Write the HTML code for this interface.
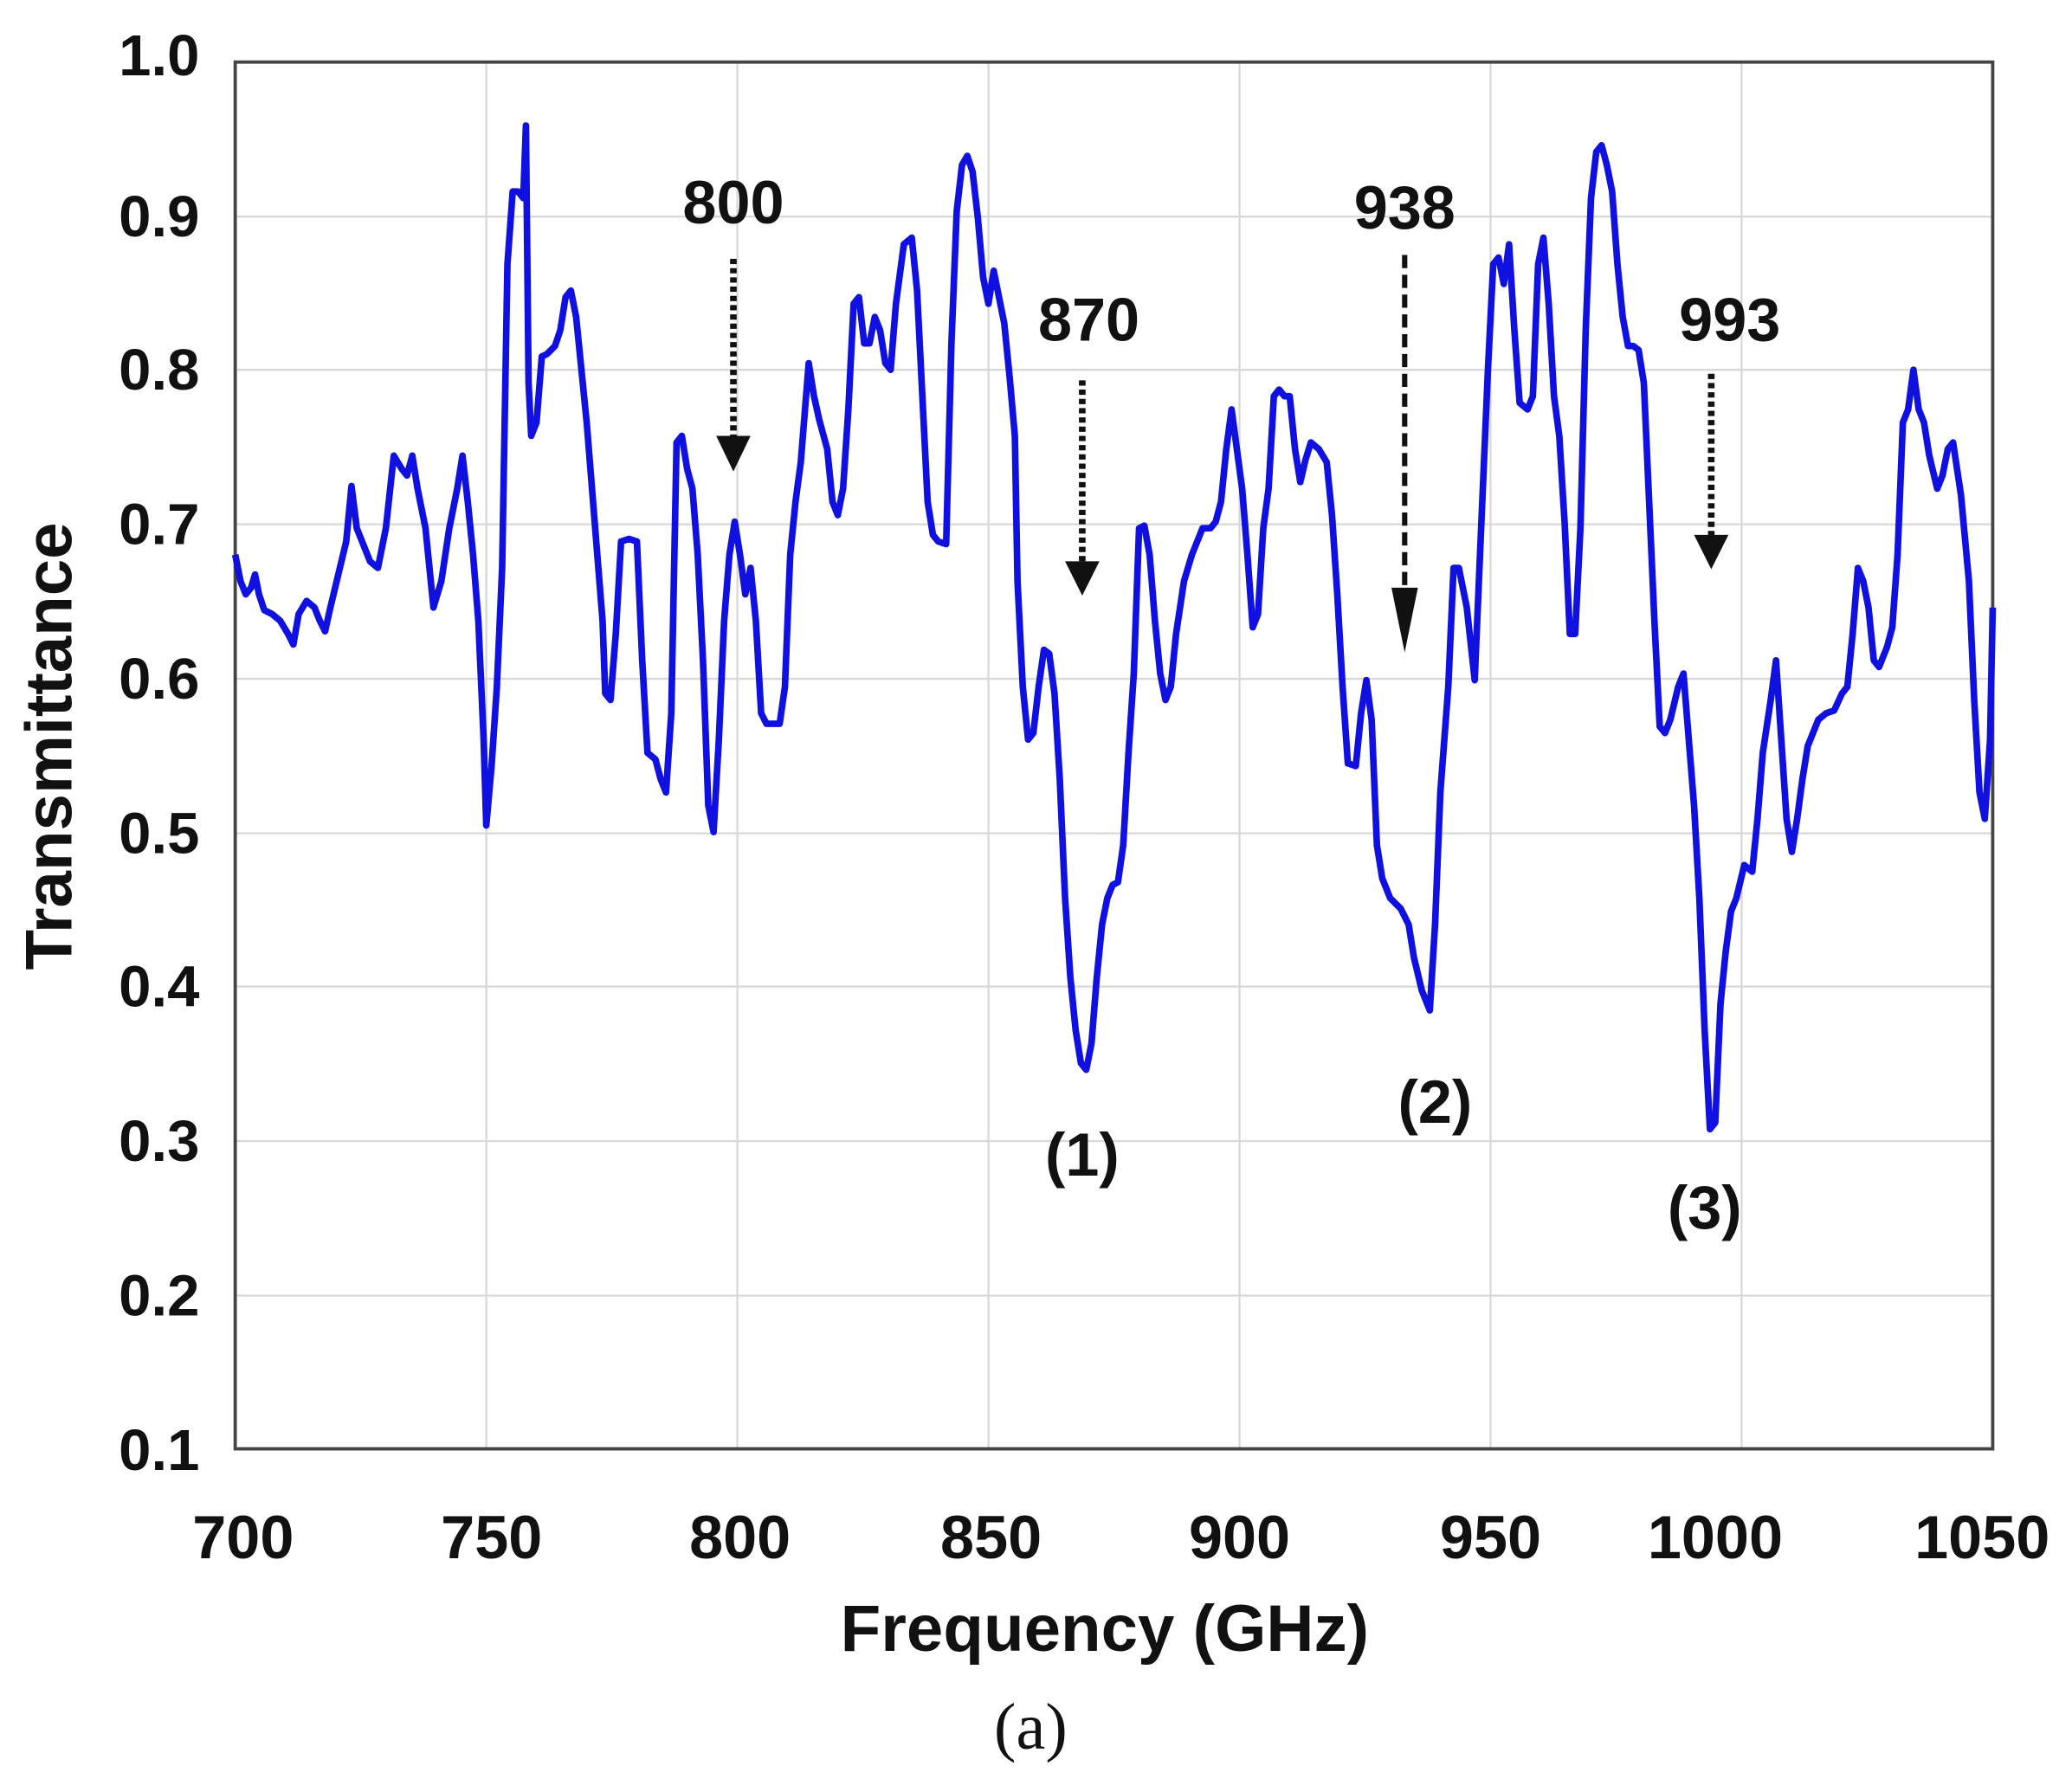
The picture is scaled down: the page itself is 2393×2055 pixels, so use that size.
<!DOCTYPE html>
<html><head><meta charset="utf-8"><style>html,body{margin:0;padding:0;background:#fff}svg{display:block}</style></head>
<body>
<svg width="2393" height="2055" viewBox="0 0 1568 1347" preserveAspectRatio="none" xmlns="http://www.w3.org/2000/svg">
<rect width="1568" height="1347" fill="#fff"/>
<g stroke="#d8d8d8" stroke-width="1.5">
<line x1="368" y1="47" x2="368" y2="1097"/><line x1="558" y1="47" x2="558" y2="1097"/><line x1="748" y1="47" x2="748" y2="1097"/><line x1="938" y1="47" x2="938" y2="1097"/><line x1="1128" y1="47" x2="1128" y2="1097"/><line x1="1318" y1="47" x2="1318" y2="1097"/>
<line x1="178" y1="164" x2="1508" y2="164"/><line x1="178" y1="280" x2="1508" y2="280"/><line x1="178" y1="397" x2="1508" y2="397"/><line x1="178" y1="514" x2="1508" y2="514"/><line x1="178" y1="631" x2="1508" y2="631"/><line x1="178" y1="747" x2="1508" y2="747"/><line x1="178" y1="864" x2="1508" y2="864"/><line x1="178" y1="981" x2="1508" y2="981"/>
</g>
<rect x="178" y="47" width="1330" height="1050" fill="none" stroke="#444" stroke-width="2.5"/>
<polyline fill="none" stroke="#1010e0" stroke-width="5" stroke-linejoin="round" points="178,420 182,440 186,450 190,445 193,435 196,450 200,462 206,465 212,470 218,480 222,488 226,465 232,455 238,460 242,470 246,478 250,460 256,435 262,410 266,368 270,400 274,410 280,425 286,430 292,400 298,345 304,355 308,360 312,345 316,370 322,400 328,460 334,440 340,400 346,370 350,345 354,380 358,420 362,470 366,560 368,625 372,580 376,520 380,430 384,200 388,145 392,145 396,150 398,95 400,290 402,330 406,320 410,270 414,268 420,262 424,250 428,225 432,220 436,240 440,280 444,320 448,370 452,420 456,470 458,525 462,530 466,480 470,410 476,408 482,410 486,500 490,570 496,575 500,590 504,600 508,540 512,335 516,330 520,355 524,370 528,420 532,500 536,610 540,630 544,560 548,470 552,420 556,395 560,420 564,450 568,430 572,470 576,540 580,548 586,548 590,548 594,520 598,420 602,380 606,350 612,275 616,300 620,318 626,340 630,380 634,390 638,370 642,310 646,230 650,225 654,260 658,260 662,240 666,250 670,275 674,280 678,230 684,185 690,180 694,220 698,300 702,380 706,405 710,410 716,412 720,260 724,160 728,125 732,118 736,130 740,165 744,210 748,230 752,205 756,225 760,245 764,285 768,330 770,440 774,520 778,560 782,555 786,520 790,492 794,495 798,525 802,590 806,680 810,740 814,780 818,805 822,810 826,790 830,740 834,700 838,680 842,670 846,668 850,640 854,570 858,510 862,400 866,398 870,420 874,470 878,510 882,530 886,520 890,480 896,440 902,420 910,400 916,400 920,395 924,380 928,340 932,310 936,340 940,370 944,420 948,475 952,465 956,400 960,370 964,300 968,295 972,300 976,300 980,340 984,365 988,348 992,335 998,340 1004,350 1008,390 1012,450 1016,520 1020,578 1026,580 1030,540 1034,515 1038,545 1042,640 1046,665 1052,680 1060,688 1066,700 1070,725 1076,750 1082,765 1086,700 1090,600 1096,520 1100,430 1104,430 1110,460 1116,515 1120,420 1126,280 1130,200 1134,195 1138,215 1142,185 1146,250 1150,305 1156,310 1160,300 1164,200 1168,180 1172,230 1176,300 1180,330 1184,395 1188,480 1192,480 1196,400 1200,250 1204,150 1208,115 1212,110 1216,125 1220,145 1224,200 1228,240 1232,262 1236,262 1240,265 1244,290 1248,380 1252,470 1256,550 1260,555 1264,545 1270,520 1274,510 1278,560 1282,610 1286,680 1290,780 1294,855 1298,850 1302,760 1306,720 1310,690 1314,680 1320,655 1326,660 1330,620 1334,570 1340,530 1344,500 1348,560 1352,620 1356,645 1360,620 1364,590 1368,565 1376,545 1382,540 1388,538 1394,525 1398,520 1402,480 1406,430 1410,440 1414,460 1418,500 1422,505 1428,490 1432,475 1436,420 1440,320 1444,310 1448,280 1452,310 1456,320 1460,345 1466,370 1470,360 1474,340 1478,335 1484,375 1490,440 1494,530 1498,600 1502,620 1506,560 1508,460"/>
<g stroke="#111" stroke-width="5">
<line x1="555" y1="196" x2="555" y2="334" stroke-dasharray="4,3"/>
<line x1="819" y1="288" x2="819" y2="428" stroke-dasharray="4,3"/>
<line x1="1063" y1="193" x2="1063" y2="448" stroke-dasharray="10,5" stroke-width="4"/>
<line x1="1295" y1="283" x2="1295" y2="408" stroke-dasharray="4,3"/>
</g>
<g fill="#111">
<polygon points="542,330 568,330 555,357"/>
<polygon points="806,425 832,425 819,451"/>
<polygon points="1053,445 1073,445 1063,494"/>
<polygon points="1282,405 1308,405 1295,431"/>
</g>
<g font-family="Liberation Sans, sans-serif" font-weight="bold" fill="#111" font-size="46">
<g text-anchor="end" font-size="44">
<text x="151" y="57">1.0</text><text x="151" y="179">0.9</text><text x="151" y="295">0.8</text><text x="151" y="412">0.7</text><text x="151" y="529">0.6</text><text x="151" y="646">0.5</text><text x="151" y="762">0.4</text><text x="151" y="879">0.3</text><text x="151" y="996">0.2</text><text x="151" y="1113">0.1</text>
</g>
<g text-anchor="middle">
<text x="184" y="1180">700</text><text x="372" y="1180">750</text><text x="560" y="1180">800</text><text x="750" y="1180">850</text><text x="938" y="1180">900</text><text x="1128" y="1180">950</text><text x="1298" y="1180">1000</text><text x="1500" y="1180">1050</text>
<text x="555" y="169">800</text><text x="824" y="258">870</text><text x="1063" y="173">938</text><text x="1309" y="258">993</text>
<text x="819" y="890">(1)</text><text x="1086" y="850">(2)</text><text x="1290" y="930">(3)</text>
<text x="836" y="1250" font-size="50">Frequency (GHz)</text>
</g>
<text transform="translate(54,565) rotate(-90)" text-anchor="middle" font-size="50">Transmittance</text>
</g>
<text x="780" y="1324" text-anchor="middle" font-family="Liberation Serif, serif" font-size="50" fill="#111">(a)</text>
</svg>
</body></html>
